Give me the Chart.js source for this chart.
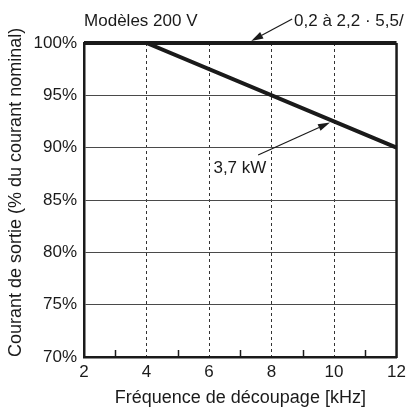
<!DOCTYPE html>
<html>
<head>
<meta charset="utf-8">
<script src="https://cdn.jsdelivr.net/npm/chart.js@4/dist/chart.umd.min.js"></script>
<style>
  html, body { margin: 0; padding: 0; background: #fff; }
  #wrap { width: 411px; height: 409px; }
</style>
</head>
<body>
<div id="wrap"><canvas id="c" width="411" height="409"></canvas></div>
<script>
// Switching frequency (kHz) at the breakpoints of each derating curve
const freqKHz = [2, 4, 12];
// Output current, % of rated current
const smallModels = [100, 100, 100];   // 0,2 à 2,2 · 5,5/…
const model37kW = [100, 100, 90];      // 3,7 kW

const xTickLabels = ['2', '4', '6', '8', '10', '12'];
const yTickLabels = ['70%', '75%', '80%', '85%', '90%', '95%', '100%'];

// Callouts: text anchor and arrow (tail -> head), in data units
const callouts = [
  { text: 'Modèles 200 V', at: [2, 102.1], arrow: null },
  { text: '0,2 à 2,2 · 5,5/', at: [8.72, 102.1], arrow: [[8.66, 102.3], [7.35, 100.2]] },
  { text: '3,7 kW', at: [6.14, 88.0], arrow: [[7.57, 89.3], [9.87, 92.4]] }
];

const FONT = '"Liberation Sans", Arial, sans-serif';
const INK = '#1a1a1a';

const toPoints = (xs, ys) => xs.map((x, i) => ({ x, y: ys[i] }));

// Right-hand frame line and inward minor ticks on the frequency axis
const framePlugin = {
  id: 'frame',
  beforeDatasetsDraw(chart) {
    const { ctx, chartArea, scales: { x } } = chart;
    ctx.save();
    ctx.strokeStyle = INK;
    const px = x.getPixelForValue(x.max);
    ctx.lineWidth = 2.5;
    ctx.beginPath();
    ctx.moveTo(px, chartArea.top);
    ctx.lineTo(px, chartArea.bottom + 1);
    ctx.stroke();
    ctx.lineWidth = 1.5;
    x.ticks.forEach(t => {
      if (t.value % 2 !== 1) return;
      const tx = Math.round(x.getPixelForValue(t.value)) + 0.5;
      ctx.beginPath();
      ctx.moveTo(tx, chartArea.bottom);
      ctx.lineTo(tx, chartArea.bottom - 7);
      ctx.stroke();
    });
    ctx.restore();
  }
};

const calloutPlugin = {
  id: 'callouts',
  afterDatasetsDraw(chart) {
    const { ctx, scales: { x, y } } = chart;
    ctx.save();
    ctx.font = '17px ' + FONT;
    ctx.fillStyle = INK;
    ctx.strokeStyle = INK;
    ctx.textBaseline = 'middle';
    ctx.textAlign = 'left';
    callouts.forEach(c => {
      ctx.fillText(c.text, x.getPixelForValue(c.at[0]), y.getPixelForValue(c.at[1]));
      if (!c.arrow) return;
      const x1 = x.getPixelForValue(c.arrow[0][0]), y1 = y.getPixelForValue(c.arrow[0][1]);
      const x2 = x.getPixelForValue(c.arrow[1][0]), y2 = y.getPixelForValue(c.arrow[1][1]);
      const ang = Math.atan2(y2 - y1, x2 - x1);
      const len = 12, half = 3.6;
      const bx = x2 - len * Math.cos(ang), by = y2 - len * Math.sin(ang);
      ctx.lineWidth = 1.2;
      ctx.beginPath();
      ctx.moveTo(x1, y1);
      ctx.lineTo(bx, by);
      ctx.stroke();
      ctx.beginPath();
      ctx.moveTo(x2, y2);
      ctx.lineTo(bx + half * Math.sin(ang), by - half * Math.cos(ang));
      ctx.lineTo(bx - half * Math.sin(ang), by + half * Math.cos(ang));
      ctx.closePath();
      ctx.fill();
    });
    ctx.restore();
  }
};

new Chart(document.getElementById('c'), {
  type: 'line',
  data: {
    datasets: [
      {
        label: '0,2 à 2,2 · 5,5/',
        data: toPoints(freqKHz, smallModels),
        borderColor: INK,
        borderWidth: 4,
        pointRadius: 0,
        tension: 0,
        clip: 4
      },
      {
        label: '3,7 kW',
        data: toPoints(freqKHz, model37kW),
        borderColor: INK,
        borderWidth: 4,
        pointRadius: 0,
        tension: 0,
        clip: 4
      }
    ]
  },
  options: {
    responsive: false,
    animation: false,
    devicePixelRatio: 1,
    layout: { padding: { top: 43, right: 3, bottom: 0, left: 5 } },
    plugins: { legend: { display: false }, tooltip: { enabled: false } },
    scales: {
      x: {
        type: 'linear',
        min: 2,
        max: 12,
        ticks: {
          stepSize: 1,
          padding: 5,
          color: INK,
          font: { family: FONT, size: 17 },
          callback: v => (v % 2 === 0 ? xTickLabels[(v - 2) / 2] : '')
        },
        grid: {
          drawTicks: false,
          lineWidth: 1,
          color: ctx => {
            const v = ctx.tick && ctx.tick.value;
            return (v % 2 === 0 && v > 2 && v < 12) ? '#333' : 'rgba(0,0,0,0)';
          }
        },
        border: { display: true, color: INK, width: 2.5, dash: [3, 3] },
        title: {
          display: true,
          text: 'Fréquence de découpage [kHz]',
          color: INK,
          font: { family: FONT, size: 18 },
          padding: { top: 0, bottom: 0 }
        }
      },
      y: {
        min: 70,
        max: 100,
        ticks: {
          stepSize: 5,
          padding: 7,
          color: INK,
          font: { family: FONT, size: 17 },
          callback: v => yTickLabels[(v - 70) / 5]
        },
        grid: {
          drawTicks: false,
          lineWidth: 1,
          color: ctx => {
            const v = ctx.tick && ctx.tick.value;
            return (v > 70 && v < 100) ? '#4a4a4a' : 'rgba(0,0,0,0)';
          }
        },
        border: { display: true, color: INK, width: 2.5 },
        title: {
          display: true,
          text: 'Courant de sortie (% du courant nominal)',
          align: 'start',
          color: INK,
          font: { family: FONT, size: 18 },
          padding: { top: 0, bottom: 0 }
        }
      }
    }
  },
  plugins: [framePlugin, calloutPlugin]
});
</script>
</body>
</html>
